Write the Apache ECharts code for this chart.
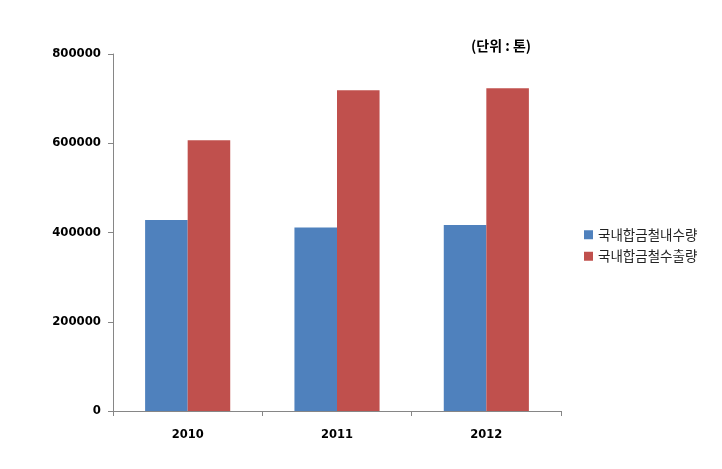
<!DOCTYPE html>
<html><head><meta charset="utf-8">
<script src="https://cdn.jsdelivr.net/npm/echarts@6/dist/echarts.min.js"></script>
<style>html,body{margin:0;padding:0;background:#fff}#c{width:722px;height:469px}</style>
</head><body><div id="c"></div>
<script>
const categories = ['2010', '2011', '2012'];
const domesticDemand = [428000, 411000, 417000];
const exportVolume = [607000, 719000, 723000];
const seriesNames = ['국내합금철내수량', '국내합금철수출량'];
const yTicks = [0, 200000, 400000, 600000, 800000];
const unitText = '(단위 : 톤)';

const chart = echarts.init(document.getElementById('c'), null, {renderer: 'canvas'});
const font = '"Noto Sans CJK KR", "Noto Sans", sans-serif';
const numFont = 'Verdana, "DejaVu Sans", sans-serif';
chart.setOption({
  animation: false,
  backgroundColor: '#fff',
  title: {
    text: unitText, left: 466, top: 34,
    textStyle: {fontSize: 14, fontWeight: 'bold', color: '#000', fontFamily: font}
  },
  legend: {
    orient: 'vertical', left: 579, top: 223, itemWidth: 9, itemHeight: 9, itemGap: 8,
    icon: 'rect',
    textStyle: {fontSize: 13.5, color: '#222', fontFamily: font},
    data: seriesNames
  },
  grid: {left: 113, right: 161, top: 54, bottom: 58, containLabel: false},
  xAxis: {
    type: 'category', data: categories,
    axisLine: {lineStyle: {color: '#868686'}},
    axisTick: {show: true, length: 5, lineStyle: {color: '#868686'}},
    axisLabel: {fontSize: 11.5, fontWeight: 'bold', color: '#000', margin: 18, fontFamily: numFont}
  },
  yAxis: {
    type: 'value', min: yTicks[0], max: yTicks[yTicks.length - 1], interval: 200000,
    axisLine: {show: true, lineStyle: {color: '#868686'}},
    axisTick: {show: true, length: 5, lineStyle: {color: '#868686'}},
    splitLine: {show: false},
    axisLabel: {fontSize: 11.7, fontWeight: 'bold', color: '#000', margin: 12, fontFamily: numFont,
      formatter: v => String(v)}
  },
  series: [
    {name: seriesNames[0], type: 'bar', data: domesticDemand, barGap: '0%', barCategoryGap: '43%', itemStyle: {color: '#4F81BD'}},
    {name: seriesNames[1], type: 'bar', data: exportVolume, barGap: '0%', barCategoryGap: '43%', itemStyle: {color: '#C0504D'}}
  ]
});
</script></body></html>
